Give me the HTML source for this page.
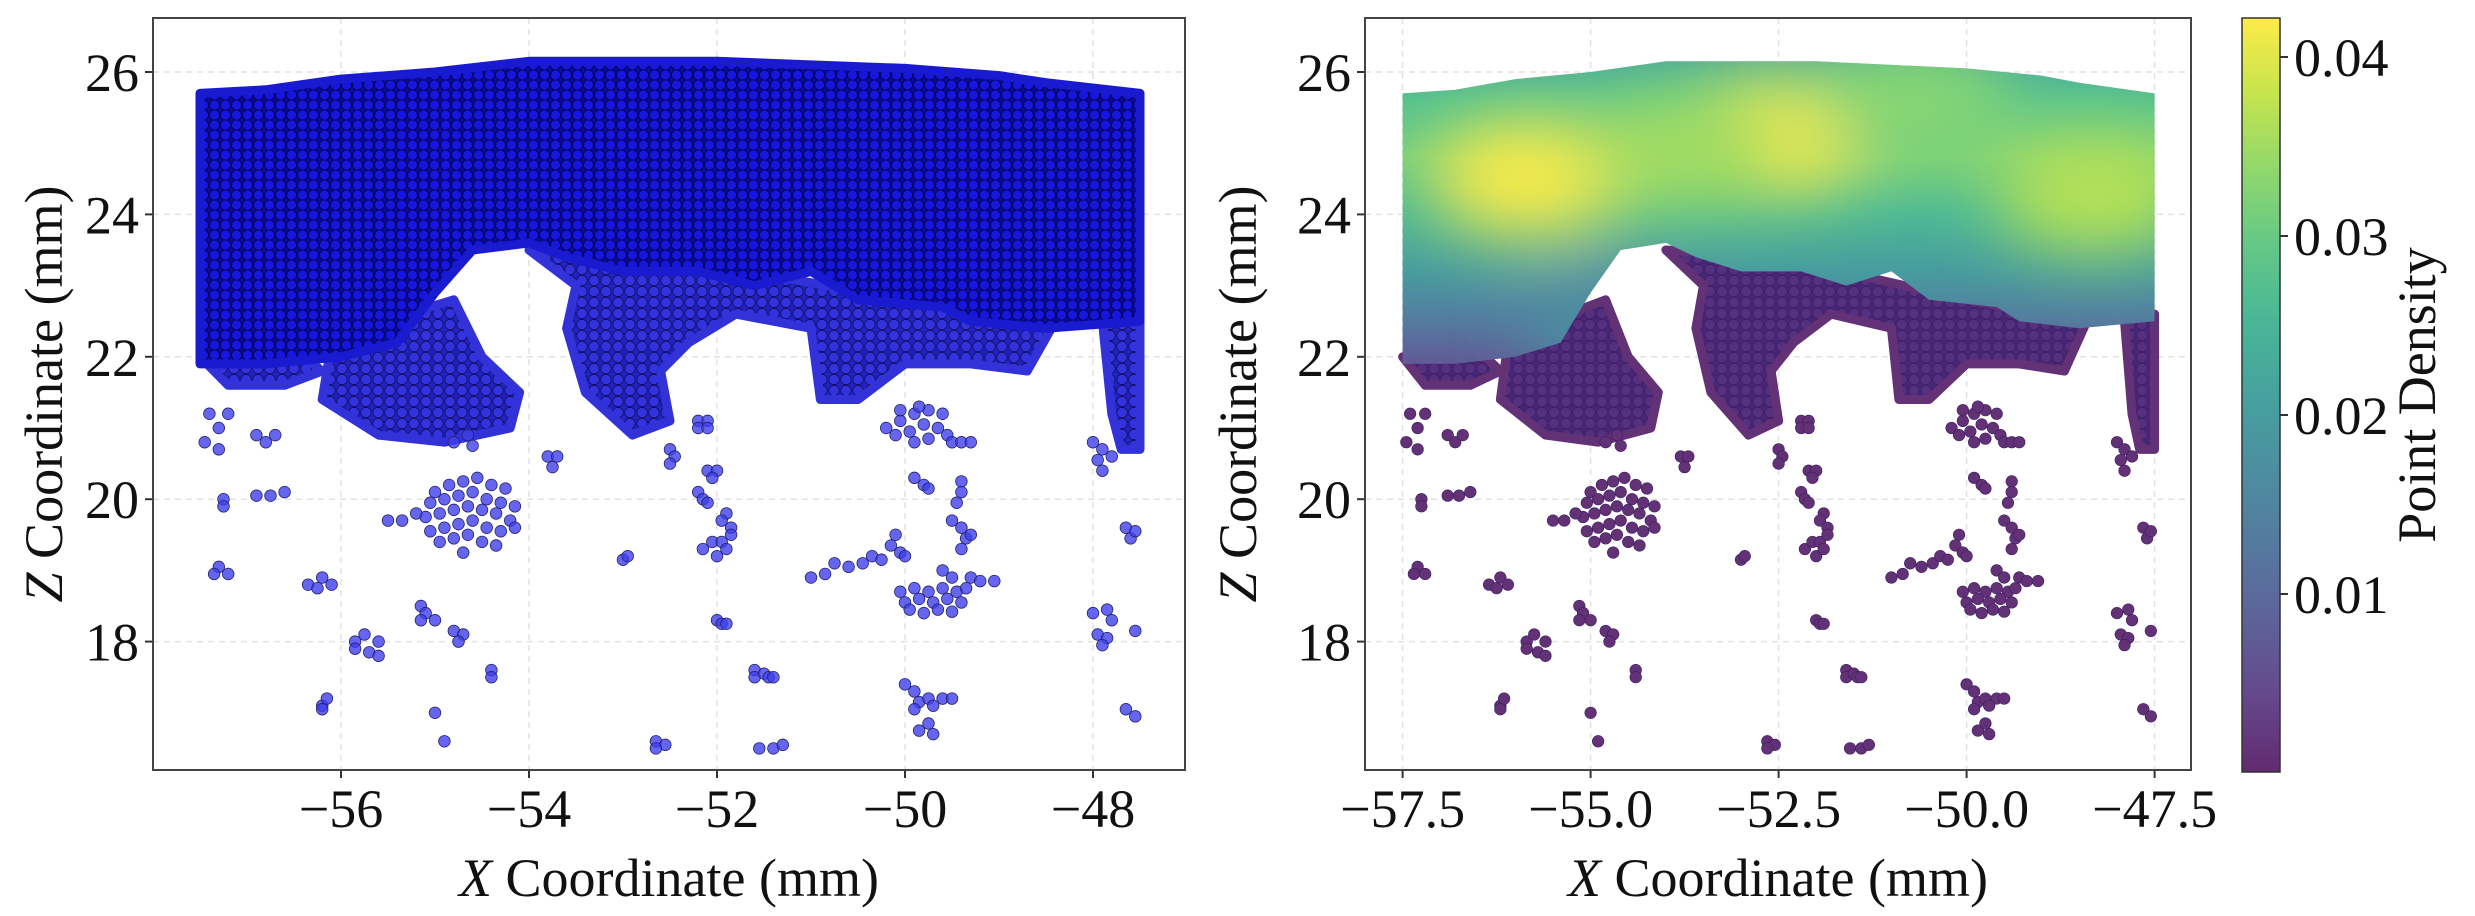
<!DOCTYPE html>
<html><head><meta charset="utf-8"><style>
html,body{margin:0;padding:0;background:#fff;}
svg{display:block;font-family:"Liberation Serif",serif;}
</style></head><body>
<svg id="fig" width="2475" height="916" viewBox="0 0 2475 916" xmlns="http://www.w3.org/2000/svg">
<defs>
<pattern id="densePat" width="11" height="10" patternUnits="userSpaceOnUse">
<rect width="11" height="10" fill="#0a0a9c"/>
<circle cx="5.5" cy="5" r="5" fill="#1616e0" stroke="#05054a" stroke-width="0.8"/>
</pattern>
<pattern id="fringePat" width="12" height="11" patternUnits="userSpaceOnUse">
<rect width="12" height="11" fill="#2222c4"/>
<circle cx="6" cy="5.5" r="5.2" fill="#3232e0" stroke="#101058" stroke-width="0.8"/>
</pattern>
<pattern id="fringePatR" width="12" height="11" patternUnits="userSpaceOnUse">
<rect width="12" height="11" fill="#482676"/>
<circle cx="6" cy="5.5" r="5.2" fill="#55307f" stroke="#3a1c60" stroke-width="0.6"/>
</pattern>
<filter id="blur" x="-50%" y="-50%" width="200%" height="200%"><feGaussianBlur stdDeviation="34"/></filter>
<clipPath id="clipL"><rect x="153" y="18" width="1032" height="752"/></clipPath>
<clipPath id="clipR"><rect x="1365" y="18" width="826" height="752"/></clipPath>
</defs>
<g id="root"></g>
</svg>
<script>
// ---- data (data coordinates: X in mm, Z in mm) ----
const xTicksL = [-56, -54, -52, -50, -48];
const xTickLabelsL = ["\u221256", "\u221254", "\u221252", "\u221250", "\u221248"];
const xTicksR = [-57.5, -55.0, -52.5, -50.0, -47.5];
const xTickLabelsR = ["\u221257.5", "\u221255.0", "\u221252.5", "\u221250.0", "\u221247.5"];
const zTicks = [18, 20, 22, 24, 26];
const zTickLabels = ["18", "20", "22", "24", "26"];
const cbTicks = [0.01, 0.02, 0.03, 0.04];
const cbTickLabels = ["0.01", "0.02", "0.03", "0.04"];

// outline of the dense (solid) point band
const denseX = [-57.5,-56.8,-56,-55,-54,-53,-52,-51,-50,-49,-48.5,-47.5, -47.5,-48.5,-49.3,-49.6,-50.5,-51.0,-51.6,-52.2,-53.0,-53.6,-54.0,-54.6,-55.0,-55.4,-56.0,-56.8,-57.5];
const denseZ = [25.7,25.75,25.9,26.0,26.15,26.15,26.15,26.1,26.05,25.95,25.85,25.7, 22.5,22.4,22.5,22.7,22.8,23.2,23.0,23.2,23.2,23.4,23.6,23.5,22.9,22.2,22.0,21.9,21.9];

// semi-dense fringe regions
const fringeX = [
 [-56.1,-56.2,-55.6,-54.9,-54.2,-54.1,-54.5,-54.8,-55.3,-55.6],
 [-54.0,-53.5,-53.6,-53.4,-52.9,-52.5,-52.6,-52.3,-51.8,-51.0,-50.9,-50.5,-50.0,-49.3,-48.7,-48.4,-50.0,-52.5],
 [-47.9,-47.8,-47.7,-47.5,-47.5],
 [-57.5,-57.2,-56.6,-56.2,-56.4,-57.5]
];
const fringeZ = [
 [22.2,21.4,20.9,20.8,21.0,21.5,22.0,22.8,22.6,22.3],
 [23.5,23.0,22.4,21.5,20.9,21.1,21.8,22.2,22.6,22.4,21.4,21.4,21.9,21.9,21.8,22.5,22.8,23.4],
 [22.5,21.2,20.7,20.7,22.6],
 [22.0,21.6,21.6,21.8,22.0,22.0]
];

// sparse points
const ptX = [-57.4,-57.3,-57.45,-57.3,-57.2,-56.9,-56.8,-56.7,-57.25,-57.25,-56.9,-56.75,-56.6,-57.3,-57.2,-57.35,-56.35,-56.2,-56.1,-56.25,-56.2,-56.15,-56.2,-55.85,-55.75,-55.6,-55.7,-55.85,-55.6,-55.15,-55.1,-55.0,-55.15,-54.8,-54.7,-54.75,-55.0,-54.9,-54.4,-54.4,
 -55.0,-54.85,-54.7,-54.55,-54.4,-54.25,-55.05,-54.9,-54.75,-54.6,-54.45,-54.3,-54.15,-55.1,-54.95,-54.8,-54.65,-54.5,-54.35,-54.2,-55.05,-54.9,-54.75,-54.6,-54.45,-54.3,-54.15,-54.95,-54.8,-54.65,-54.5,-54.35,-54.7,-55.5,-55.35,-55.2,
 -54.8,-54.65,-54.6,-53.8,-53.75,-53.7,-53.0,-52.95,-52.65,-52.55,-52.65,-52.2,-52.2,-52.1,-52.1,-52.5,-52.45,-52.5,-52.1,-52.0,-52.05,-52.2,-52.15,-52.1,-51.9,-51.95,-51.85,-52.15,-52.05,-51.95,-51.85,-52.0,-51.9,-52.0,-51.95,-51.9,-51.6,-51.6,-51.5,-51.45,-51.4,-51.55,-51.4,-51.3,
 -50.2,-50.05,-49.9,-49.75,-49.6,-50.1,-49.95,-49.8,-49.65,-49.55,-49.9,-49.75,-50.05,-49.85,-49.5,-49.4,-49.3,-49.9,-49.8,-49.75,-49.4,-49.4,-49.45,-49.5,-49.4,-49.35,-49.4,-49.3,-50.1,-50.15,-50.05,-50.0,
 -51.0,-50.85,-50.75,-50.6,-50.45,-50.35,-50.25,
 -50.05,-49.9,-49.75,-49.6,-49.45,-50.0,-49.85,-49.7,-49.55,-49.4,-49.95,-49.8,-49.65,-49.5,-49.6,-49.5,-49.3,-49.2,-49.05,-49.35,
 -50.0,-49.9,-49.85,-49.75,-49.6,-49.5,-49.7,-49.9,-49.85,-49.75,-49.7,
 -48.0,-47.9,-47.95,-47.8,-47.9,-47.65,-47.6,-47.55,-48.0,-47.85,-47.8,-47.95,-47.85,-47.9,-47.55,-47.65,-47.55];
const ptZ = [21.2,21.0,20.8,20.7,21.2,20.9,20.8,20.9,20.0,19.9,20.05,20.05,20.1,19.05,18.95,18.95,18.8,18.9,18.8,18.75,17.1,17.2,17.05,18.0,18.1,18.0,17.85,17.9,17.8,18.5,18.4,18.3,18.3,18.15,18.1,18.0,17.0,16.6,17.6,17.5,
 20.1,20.2,20.25,20.3,20.2,20.15,19.95,20.0,20.05,20.1,20.0,19.95,19.9,19.75,19.8,19.85,19.9,19.85,19.8,19.7,19.55,19.6,19.65,19.7,19.6,19.55,19.6,19.4,19.45,19.5,19.4,19.35,19.25,19.7,19.7,19.8,
 20.8,20.9,20.75,20.6,20.45,20.6,19.15,19.2,16.6,16.55,16.5,21.1,21.0,21.1,21.0,20.7,20.6,20.5,20.4,20.4,20.3,20.1,20.0,19.95,19.8,19.7,19.6,19.3,19.4,19.4,19.5,19.2,19.3,18.3,18.25,18.25,17.6,17.5,17.55,17.5,17.5,16.5,16.5,16.55,
 21.0,21.1,21.2,21.25,21.2,20.9,20.95,21.05,21.0,20.9,20.8,20.85,21.25,21.3,20.8,20.8,20.8,20.3,20.2,20.15,20.25,20.1,19.95,19.7,19.6,19.45,19.3,19.5,19.5,19.35,19.25,19.2,
 18.9,18.95,19.1,19.05,19.1,19.2,19.15,
 18.7,18.75,18.7,18.75,18.7,18.55,18.6,18.55,18.6,18.55,18.45,18.4,18.45,18.42,19.0,18.9,18.9,18.85,18.85,18.75,
 17.4,17.3,17.15,17.2,17.2,17.2,17.1,17.05,16.75,16.85,16.7,
 20.8,20.7,20.55,20.6,20.4,19.6,19.45,19.55,18.4,18.45,18.3,18.1,18.05,17.95,18.15,17.05,16.95];

// density field (right panel)
const bandZ = [26.3, 25.6, 24.8, 24.0, 23.2, 22.6, 22.0, 21.4];
const bandDensity = [0.022, 0.028, 0.031, 0.026, 0.020, 0.014, 0.008, 0.004];
const peakX = [-55.8, -52.6, -48.3, -50.7, -53.8, -54.6];
const peakZ = [24.5, 25.1, 24.3, 25.6, 24.9, 22.4];
const peakDensity = [0.042, 0.042, 0.037, 0.033, 0.035, 0.017];
const sparseDensity = 0.001;

// ---- scales ----
const XL = x => 153 + (x + 58) * 94;
const XR = x => 1365 + (x + 58) * 75.2;
const ZY = z => 72 + (26 - z) * 71.2;
const CBY = v => 57 + (0.04 - v) * 17900;
const NS = "http://www.w3.org/2000/svg";
const root = document.getElementById('root');
function mk(tag, attrs, parent) {
  const e = document.createElementNS(NS, tag);
  for (const k in attrs) e.setAttribute(k, attrs[k]);
  (parent || root).appendChild(e);
  return e;
}
const vir = [[68,1,84],[72,40,120],[62,74,137],[49,104,142],[38,130,142],[31,158,137],[53,183,121],[109,205,89],[180,222,44],[253,231,37]];
function cmap(v) {
  let t = Math.max(0, Math.min(1, v / 0.0422)) * (vir.length - 1);
  const i = Math.min(vir.length - 2, Math.floor(t)); const f = t - i;
  const c = vir[i].map((a, k) => a + (vir[i + 1][k] - a) * f).map(a => Math.round(a * 0.84 + 255 * 0.16));
  return `rgb(${c[0]},${c[1]},${c[2]})`;
}
const polyPts = (xs, zs, X) => xs.map((x, i) => `${X(x).toFixed(1)},${ZY(zs[i]).toFixed(1)}`).join(' ');

function axes(X, x0, x1, xt, xtl, label, yLabelX, panel) {
  const g = mk('g', {});
  
  
  xt.forEach((v, i) => {
    const gl = mk('line', {x1: X(v), x2: X(v), y1: 18, y2: 770, stroke: '#e2e2e2', 'stroke-width': 1.5, 'stroke-dasharray': '6,5'}, g);
    
    
    const tk = mk('line', {x1: X(v), x2: X(v), y1: 770, y2: 778, stroke: '#333', 'stroke-width': 2}, g);
    
    
    const t = mk('text', {x: X(v), y: 827, 'font-size': 54, 'text-anchor': 'middle', fill: '#111'}, g);
    t.textContent = xtl[i];
    
    
  });
  zTicks.forEach((v, i) => {
    const gl = mk('line', {x1: x0, x2: x1, y1: ZY(v), y2: ZY(v), stroke: '#e2e2e2', 'stroke-width': 1.5, 'stroke-dasharray': '6,5'}, g);
    
    
    const tk = mk('line', {x1: x0 - 8, x2: x0, y1: ZY(v), y2: ZY(v), stroke: '#333', 'stroke-width': 2}, g);
    
    
    const t = mk('text', {x: x0 - 14, y: ZY(v) + 19, 'font-size': 54, 'text-anchor': 'end', fill: '#111'}, g);
    t.textContent = zTickLabels[i];
    
    
  });
  const xl = mk('text', {x: (x0 + x1) / 2, y: 896, 'font-size': 54, 'text-anchor': 'middle', fill: '#111'}, g);
  xl.innerHTML = '<tspan font-style="italic">X</tspan> Coordinate (mm)';
  
  
  const yl = mk('text', {x: 0, y: 0, 'font-size': 54, 'text-anchor': 'middle', fill: '#111', transform: `translate(${yLabelX},394) rotate(-90)`}, g);
  yl.innerHTML = '<tspan font-style="italic">Z</tspan> Coordinate (mm)';
  
  
  return g;
}

// ---- left panel ----
const gLeftAx = axes(XL, 153, 1185, xTicksL, xTickLabelsL, '', 62, 'left');
const gL = mk('g', {'clip-path': 'url(#clipL)'});


fringeX.forEach((xs, i) => {
  const p = mk('polygon', {points: polyPts(xs, fringeZ[i], XL), fill: 'url(#fringePat)', stroke: '#3232d8', 'stroke-width': 9, 'stroke-linejoin': 'round'}, gL);
  
  
});
const dL = mk('polygon', {points: polyPts(denseX, denseZ, XL), fill: 'url(#densePat)', stroke: '#1a1ad0', 'stroke-width': 9, 'stroke-linejoin': 'round'}, gL);


ptX.forEach((x, i) => {
  const c = mk('circle', {cx: XL(x), cy: ZY(ptZ[i]), r: 5.8, fill: 'rgba(62,62,236,0.8)', stroke: '#22226a', 'stroke-width': 0.8}, gL);
  
  
});
const spL = mk('rect', {x: 153, y: 18, width: 1032, height: 752, fill: 'none', stroke: '#444', 'stroke-width': 2});



// ---- right panel ----
const gRightAx = axes(XR, 1365, 2191, xTicksR, xTickLabelsR, '', 1256, 'right');
const gR = mk('g', {'clip-path': 'url(#clipR)'});


fringeX.forEach((xs, i) => {
  const p = mk('polygon', {points: polyPts(xs, fringeZ[i], XR), fill: 'url(#fringePatR)', stroke: cmap(sparseDensity), 'stroke-width': 9, 'stroke-linejoin': 'round'}, gR);
  
  
});
const defs = document.querySelector('defs');
const cp = mk('clipPath', {id: 'denseClipR'}, defs);
mk('polygon', {points: polyPts(denseX, denseZ, XR), stroke: '#000', 'stroke-width': 8}, cp);
const lg = mk('linearGradient', {id: 'bandGrad', gradientUnits: 'userSpaceOnUse', x1: 0, x2: 0, y1: ZY(bandZ[0]), y2: ZY(bandZ[bandZ.length - 1])}, defs);
bandZ.forEach((z, i) => {
  mk('stop', {offset: ((ZY(z) - ZY(bandZ[0])) / (ZY(bandZ[bandZ.length - 1]) - ZY(bandZ[0]))).toFixed(3), 'stop-color': cmap(bandDensity[i])}, lg);
});
const gD = mk('g', {'clip-path': 'url(#denseClipR)'}, gR);


const bg = mk('rect', {x: 1365, y: 18, width: 826, height: 752, fill: 'url(#bandGrad)'}, gD);


const gP = mk('g', {filter: 'url(#blur)'}, gD);
peakX.forEach((x, i) => {
  const e = mk('ellipse', {cx: XR(x), cy: ZY(peakZ[i]), rx: 100, ry: 58, fill: cmap(peakDensity[i])}, gP);
  
  
});
ptX.forEach((x, i) => {
  const c = mk('circle', {cx: XR(x), cy: ZY(ptZ[i]), r: 5.8, fill: cmap(sparseDensity), stroke: '#3a1c60', 'stroke-width': 0.6}, gR);
  
  
});
const spR = mk('rect', {x: 1365, y: 18, width: 826, height: 752, fill: 'none', stroke: '#444', 'stroke-width': 2});



// ---- colorbar ----
const cg = mk('linearGradient', {id: 'cbGrad', x1: 0, x2: 0, y1: 1, y2: 0}, defs);
for (let k = 0; k <= 10; k++) {
  mk('stop', {offset: k / 10, 'stop-color': cmap(0.0001 + (0.0422 - 0.0001) * k / 10)}, cg);
}
const gC = mk('g', {});


const cb = mk('rect', {x: 2242, y: 18, width: 38, height: 754, fill: 'url(#cbGrad)', stroke: '#333', 'stroke-width': 1.5}, gC);


cbTicks.forEach((v, i) => {
  const tk = mk('line', {x1: 2280, x2: 2288, y1: CBY(v), y2: CBY(v), stroke: '#333', 'stroke-width': 2}, gC);
  
  
  const t = mk('text', {x: 2294, y: CBY(v) + 19, 'font-size': 54, fill: '#111'}, gC);
  t.textContent = cbTickLabels[i];
  
  
});
const cl = mk('text', {x: 0, y: 0, 'font-size': 54, 'text-anchor': 'middle', fill: '#111', transform: 'translate(2435,395) rotate(-90)'}, gC);
cl.textContent = 'Point Density';


</script>
</body></html>
